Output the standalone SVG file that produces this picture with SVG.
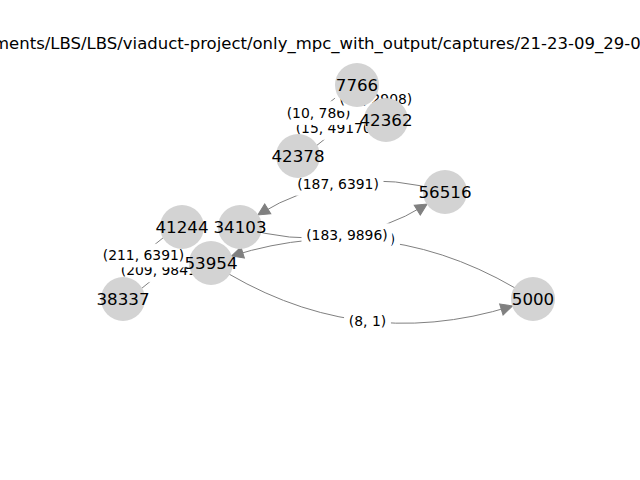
<svg xmlns="http://www.w3.org/2000/svg" width="640" height="480" viewBox="0 0 640 480">
  <style>
    .title { font-family: "DejaVu Sans", sans-serif; font-size: 16.5px; fill: #000; }
    .edge { fill: none; stroke: #808080; stroke-width: 1; marker-end: url(#head); }
    .elabel rect { fill: #fff; stroke: #fff; stroke-width: 1; }
    .elabel text { font-family: "DejaVu Sans", sans-serif; font-size: 13.9px; fill: #000; text-anchor: middle; }
    .node circle { fill: #d3d3d3; }
    .node text { font-family: "DejaVu Sans", sans-serif; font-size: 16.7px; fill: #000; text-anchor: middle; }
  </style>
  <defs>
    <marker id="head" markerUnits="userSpaceOnUse" viewBox="0 0 11.6 11.6" refX="11.6" refY="5.8" markerWidth="11.6" markerHeight="11.6" orient="auto" overflow="visible">
      <path d="M0,0 L11.6,5.8 L0,11.6 Z" fill="#808080" stroke="#808080" stroke-width="1" stroke-linejoin="miter"/>
    </marker>
  </defs>

  <rect x="0" y="0" width="640" height="480" fill="#fff"/>

  <text class="title" x="-7" y="49">ments/LBS/LBS/viaduct-project/only_mpc_with_output/captures/21-23-09_29-0</text>

  <!-- connectors: quadratic arcs, trimmed at the target node's rim -->
  <g id="edges">
    <path class="edge" d="M445,192 Q344.27,161.44 257.9,214.9"/>
    <path class="edge" d="M240,227 Q340.73,257.56 427.1,204.1"/>
    <path class="edge" d="M533,299 Q390.23,206.48 231.6,256"/>
    <path class="edge" d="M211,263 Q353.77,355.52 512.4,306"/>
    <path class="edge" d="M182,227 Q144.95,243.58 129.8,278.1"/>
    <path class="edge" d="M123,299 Q160.05,282.42 175.2,247.9"/>
    <path class="edge" d="M298,156 Q334.86,139.82 350.1,105.7"/>
    <path class="edge" d="M357,85 Q320.14,101.18 304.9,135.3"/>
    <path class="edge" d="M386,120 Q382.95,106.88 375,97.8"/>
  </g>

  <!-- edge labels -->
  <g id="edge-labels">
    <g class="elabel">
      <rect x="293.2" y="172.6" width="89.8" height="22.6" rx="4.2"/>
      <text x="338.1" y="188.6">(187, 6391)</text>
    </g>
    <g class="elabel">
      <rect x="353.6" y="228.6" width="45.8" height="22.6" rx="4.2"/>
      <text x="376.5" y="244.2">(8, 1)</text>
    </g>
    <g class="elabel">
      <rect x="302" y="223.8" width="89.8" height="22.8" rx="4.2"/>
      <text x="346.9" y="239.8">(183, 9896)</text>
    </g>
    <g class="elabel">
      <rect x="344.6" y="310" width="45.8" height="22.6" rx="4.2"/>
      <text x="367.5" y="326">(8, 1)</text>
    </g>
    <g class="elabel">
      <rect x="116.6" y="259.1" width="89.8" height="22.6" rx="4.2"/>
      <text x="161.5" y="275.1">(209, 9841)</text>
    </g>
    <g class="elabel">
      <rect x="98.6" y="244.3" width="89.8" height="22.6" rx="4.2"/>
      <text x="143.5" y="260.3">(211, 6391)</text>
    </g>
    <g class="elabel">
      <rect x="291.5" y="116.6" width="89.8" height="22.6" rx="4.2"/>
      <text x="336.4" y="132.6">(15, 49170)</text>
    </g>
    <g class="elabel">
      <rect x="282.5" y="101.8" width="72.2" height="22.6" rx="4.2"/>
      <text x="318.6" y="117.8">(10, 786)</text>
    </g>
    <g class="elabel">
      <rect x="335.4" y="87.6" width="81" height="22.6" rx="4.2"/>
      <text x="375.9" y="103.6">(12, 2908)</text>
    </g>
  </g>

  <!-- nodes -->
  <g id="n7766" class="node"><circle cx="357" cy="85" r="22"/><text x="357" y="91">7766</text></g>
  <g id="n42362" class="node"><circle cx="386" cy="120" r="22"/><text x="386" y="126">42362</text></g>
  <g id="n42378" class="node"><circle cx="298" cy="156" r="22"/><text x="298" y="162">42378</text></g>
  <g id="n56516" class="node"><circle cx="445" cy="192" r="22"/><text x="445" y="198">56516</text></g>
  <g id="n41244" class="node"><circle cx="182" cy="227" r="22"/><text x="182" y="233">41244</text></g>
  <g id="n34103" class="node"><circle cx="240" cy="227" r="22"/><text x="240" y="233">34103</text></g>
  <g id="n53954" class="node"><circle cx="211" cy="263" r="22"/><text x="211" y="269">53954</text></g>
  <g id="n38337" class="node"><circle cx="123" cy="299" r="22"/><text x="123" y="305">38337</text></g>
  <g id="n5000" class="node"><circle cx="533" cy="299" r="22"/><text x="533" y="305">5000</text></g>
</svg>
